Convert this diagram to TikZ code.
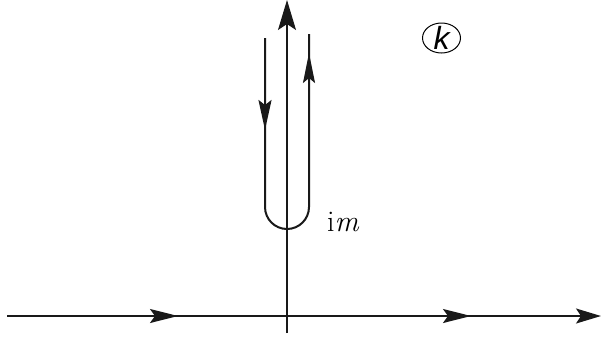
\documentclass[tikz,border=0pt]{standalone}
\usepackage{fontspec}
\newfontfamily\ksans{Liberation Sans}
\usetikzlibrary{arrows.meta,shapes.geometric}
\tikzset{
  axis/.style={line width=1.1pt,draw=black!90},
  hline/.style={line width=1.8pt,draw=black!90},
  contour/.style={line width=2pt,draw=black!90},
  bigtip/.style={-{Stealth[length=25pt,width=15pt,inset=5pt]}},
  midtip/.style={-{Stealth[length=28pt,width=14pt,inset=5pt]}},
  legtipA/.style={-{Stealth[length=30pt,width=13pt,inset=5pt]}},
  legtipB/.style={-{Stealth[length=30pt,width=12pt,inset=5pt]}},
  toptip/.style={-{Stealth[length=30pt,width=18pt,inset=6pt]}}
}
\begin{document}
\begin{tikzpicture}[x=1pt,y=-1pt]
\useasboundingbox (0,0) rectangle (602,341);
% horizontal axis
\coordinate (h0) at (7,316);
\coordinate (h1) at (178,316);
\coordinate (h2) at (471,316);
\coordinate (h3) at (601,316);
\draw[hline] (h0) -- (h2);
\draw[hline,midtip] (h0) -- (h1);
\draw[hline,midtip] (h1) -- (h2);
\draw[hline,bigtip] (h2) -- (h3);
% vertical axis
\coordinate (v0) at (287,333);
\coordinate (v1) at (287,0);
\draw[axis,toptip] (v0) -- (v1);
% contour
\coordinate (L0) at (265,38);
\coordinate (L1) at (265,130);
\coordinate (L2) at (265,207);
\coordinate (R2) at (309,207);
\coordinate (R1) at (309,53);
\coordinate (R0) at (309,34);
\draw[contour] (L0) -- (L2) arc[start angle=180,end angle=0,radius=22] -- (R0);
\draw[contour,legtipA] (L0) -- (L1);
\draw[contour,legtipB] (R2) -- (R1);
% labels
\node[font=\fontsize{30}{34}\selectfont,anchor=base west,inner sep=0pt] (im) at (327,231) {i\textit{m}};
\node[draw,line width=1pt,ellipse,inner sep=0pt,minimum width=38pt,minimum height=30pt] (k) at (441.5,38) {};
\node[font=\fontsize{32}{36}\selectfont\ksans\itshape,inner sep=0pt] (klab) at (k.center) {k};
\end{tikzpicture}
\end{document}
